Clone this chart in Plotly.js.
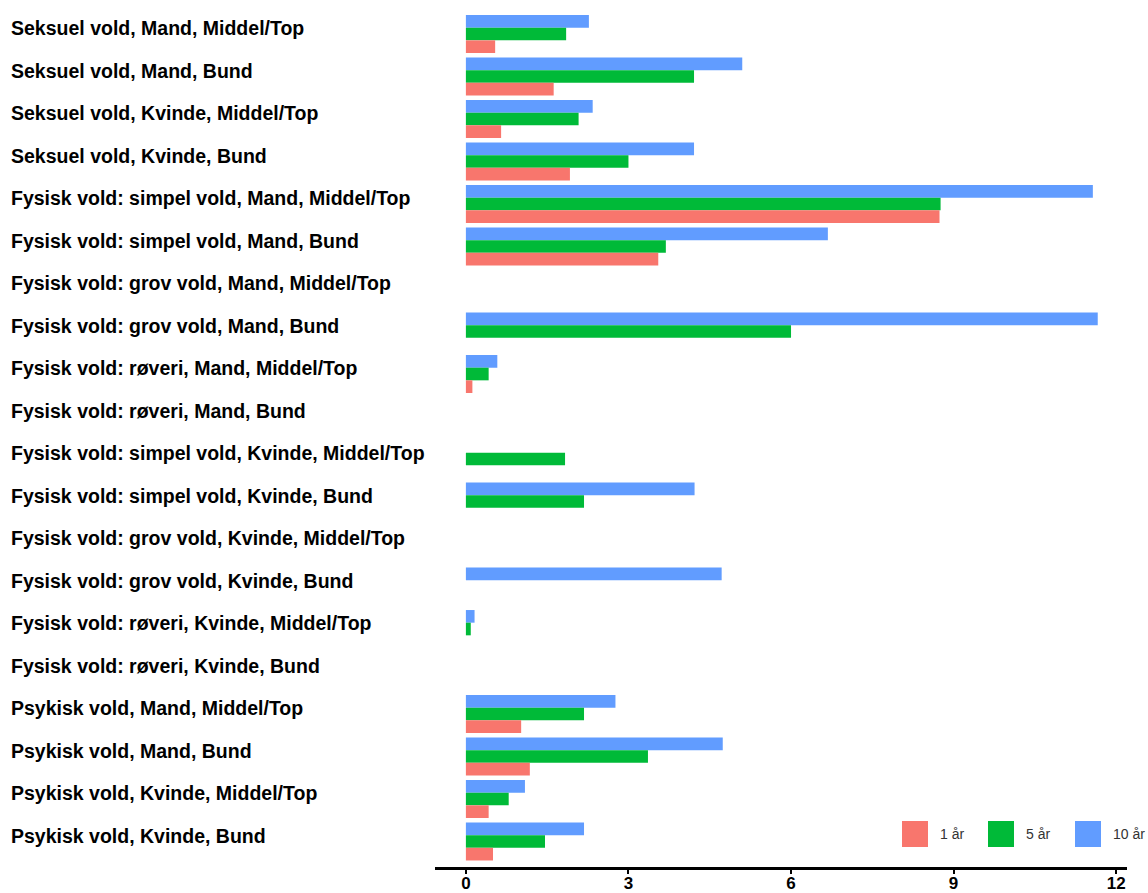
<!DOCTYPE html>
<html>
<head>
<meta charset="utf-8">
<script src="https://cdn.plot.ly/plotly-3.0.1.min.js"></script>
<style>html,body{margin:0;padding:0;background:#fff;}#chart{width:1148px;height:893px;}</style>
</head>
<body>
<div id="chart"></div>
<script>
var categories = [
  "Seksuel vold, Mand, Middel/Top",
  "Seksuel vold, Mand, Bund",
  "Seksuel vold, Kvinde, Middel/Top",
  "Seksuel vold, Kvinde, Bund",
  "Fysisk vold: simpel vold, Mand, Middel/Top",
  "Fysisk vold: simpel vold, Mand, Bund",
  "Fysisk vold: grov vold, Mand, Middel/Top",
  "Fysisk vold: grov vold, Mand, Bund",
  "Fysisk vold: røveri, Mand, Middel/Top",
  "Fysisk vold: røveri, Mand, Bund",
  "Fysisk vold: simpel vold, Kvinde, Middel/Top",
  "Fysisk vold: simpel vold, Kvinde, Bund",
  "Fysisk vold: grov vold, Kvinde, Middel/Top",
  "Fysisk vold: grov vold, Kvinde, Bund",
  "Fysisk vold: røveri, Kvinde, Middel/Top",
  "Fysisk vold: røveri, Kvinde, Bund",
  "Psykisk vold, Mand, Middel/Top",
  "Psykisk vold, Mand, Bund",
  "Psykisk vold, Kvinde, Middel/Top",
  "Psykisk vold, Kvinde, Bund"
];
var seriesNames = ["10 år", "5 år", "1 år"];
var seriesColors = ["#619CFF", "#00BA38", "#F8766D"];
var values10 = [2.27, 5.10, 2.34, 4.21, 11.57, 6.68, null, 11.66, 0.58, null, null, 4.22, null, 4.72, 0.16, null, 2.76, 4.74, 1.09, 2.18];
var values5  = [1.85, 4.21, 2.08, 3.00, 8.76, 3.69, null, 6.00, 0.42, null, 1.83, 2.18, null, null, 0.09, null, 2.18, 3.36, 0.79, 1.46];
var values1  = [0.54, 1.62, 0.65, 1.92, 8.74, 3.55, null, null, 0.12, null, null, null, null, null, null, null, 1.02, 1.18, 0.42, 0.50];
var tickValues = [0, 3, 6, 9, 12];
var legendOrder = ["1 år", "5 år", "10 år"];

var allValues = [values10, values5, values1];
var traces = allValues.map(function (vals, i) {
  return {
    type: "bar",
    orientation: "h",
    name: seriesNames[i],
    x: vals,
    y: categories,
    marker: {color: seriesColors[i], line: {width: 0}},
    showlegend: false,
    hoverinfo: "x+y+name"
  };
});

// layout geometry (pixels)
var W = 1148, H = 893;
var mL = 435, mR = 21, mT = 3, mB = 26;
var pw = W - mL - mR, ph = H - mT - mB;
function px2x(p) { return (p - mL) / pw; }
function py2y(p) { return (H - mB - p) / ph; }

var FONT = "Liberation Sans, Arial, sans-serif";

var annotations = categories.map(function (c) {
  return {
    text: "<b>" + c + "</b>",
    x: px2x(9), xref: "paper", xanchor: "left",
    y: c, yref: "y", yanchor: "middle", yshift: 6,
    showarrow: false,
    font: {family: FONT, size: 19.5, color: "#000"}
  };
});

var shapes = [];
var swatchX = [902, 988, 1075];
legendOrder.forEach(function (name, i) {
  var idx = seriesNames.indexOf(name);
  shapes.push({
    type: "rect", xref: "paper", yref: "paper",
    x0: px2x(swatchX[i]), x1: px2x(swatchX[i] + 26),
    y0: py2y(847), y1: py2y(821),
    fillcolor: seriesColors[idx], line: {width: 0}
  });
  annotations.push({
    text: name,
    x: px2x(swatchX[i] + 36), xref: "paper", xanchor: "left",
    y: py2y(834), yref: "paper", yanchor: "middle",
    showarrow: false,
    font: {family: FONT, size: 14, color: "#333"}
  });
});

var layout = {
  width: W, height: H,
  margin: {l: mL, r: mR, t: mT, b: mB, pad: 0},
  paper_bgcolor: "#fff", plot_bgcolor: "#fff",
  barmode: "group", bargap: 0.107, bargroupgap: 0,
  showlegend: false,
  xaxis: {
    range: [-0.57, 12.2],
    tickvals: tickValues,
    ticktext: tickValues.map(function (v) { return "<b>" + v + "</b>"; }),
    showgrid: false, zeroline: false,
    showline: true, linecolor: "#000", linewidth: 3,
    ticks: "outside", ticklen: 4, tickwidth: 2, tickcolor: "#000",
    ticklabelstandoff: -5,
    tickfont: {family: FONT, size: 17, color: "#000"}
  },
  yaxis: {
    type: "category",
    categoryorder: "array", categoryarray: categories,
    range: [19.6, -0.73],
    showgrid: false, zeroline: false, showline: false,
    showticklabels: false, ticks: ""
  },
  annotations: annotations,
  shapes: shapes
};

Plotly.newPlot("chart", traces, layout, {displayModeBar: false, staticPlot: true});
</script>
</body>
</html>
